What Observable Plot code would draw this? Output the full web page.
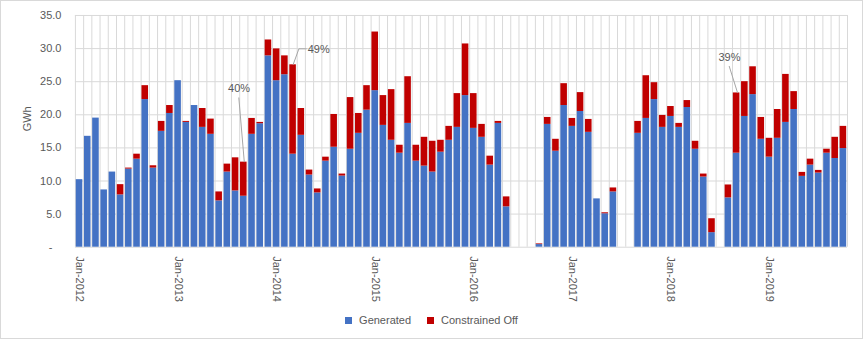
<!DOCTYPE html>
<html><head><meta charset="utf-8">
<script src="https://cdn.jsdelivr.net/npm/d3@7"></script>
<script src="https://cdn.jsdelivr.net/npm/@observablehq/plot@0.6"></script>
<style>
body{margin:0;background:#fff;font-family:"Liberation Sans",Arial,sans-serif;}
#chart{position:relative;width:863px;height:339px;box-sizing:border-box;border:1px solid #d9d9d9;overflow:hidden;background:#fff;}
#plot{position:absolute;left:-1px;top:-1px;}
#legend{position:absolute;left:-1px;top:309px;width:863px;height:20px;display:flex;justify-content:center;align-items:center;font-size:11px;color:#595959;}
.item{display:flex;align-items:center;margin:0 8px;}
.sw{width:7px;height:7px;margin-right:7px;}
</style></head>
<body>
<div id="chart"><div id="plot"></div><div id="legend"></div></div>
<script>
// Categories
const months = d3.utcMonth.range(new Date(Date.UTC(2012,0,1)), new Date(Date.UTC(2019,10,1))).map(d3.utcFormat("%b-%Y"));
const xTickLabels = ["Jan-2012","Jan-2013","Jan-2014","Jan-2015","Jan-2016","Jan-2017","Jan-2018","Jan-2019"];
const yTicks = [0,5,10,15,20,25,30,35];
const series = ["Generated","Constrained Off"];
const colors = ["#4472C4","#C00000"];

// Series values (GWh), Jan-2012 .. Oct-2019
const generated = [
 10.2,16.75,19.5,8.65,11.35,7.9,11.8,13.3,22.3,11.95,17.5,20.2,
 25.15,18.85,21.4,18.1,17.05,7.0,11.35,8.5,7.7,17.05,18.65,28.9,
 25.15,26.05,14.05,16.9,10.9,8.2,13.0,15.1,10.75,14.8,17.2,20.7,
 23.65,18.4,16.15,14.2,18.7,13.0,12.25,11.35,14.35,16.15,18.1,22.9,
 17.95,16.6,12.4,18.7,6.1,0,0,0,0.4,18.55,14.5,21.4,
 18.25,20.5,17.35,7.3,5.05,8.35,0,0,17.2,19.45,22.3,18.1,
 19.75,18.1,21.1,14.8,10.6,2.2,0,7.45,14.2,19.75,23.05,16.3,
 13.6,16.45,18.85,20.8,10.7,12.4,11.2,14.2,13.4,14.9
];
const constrained = [
 0,0,0,0,0,1.55,0.15,0.75,2.1,0.35,1.5,1.2,
 0,0.15,0,2.85,2.3,1.35,1.2,5.0,5.15,2.4,0.2,2.4,
 4.8,2.85,13.5,4.05,0.75,0.6,0.6,4.95,0.3,7.8,3.0,3.7,
 8.85,4.5,7.65,1.2,7.05,2.4,4.35,4.65,1.8,2.1,5.1,7.8,
 5.25,1.95,1.35,0.3,1.5,0,0,0,0.1,1.05,1.8,3.3,
 1.2,2.85,1.95,0,0.15,0.6,0,0,1.8,6.45,2.55,1.8,
 1.5,0.6,1.05,1.2,0.45,2.1,0,1.95,9.1,5.25,4.2,3.3,
 2.85,4.35,7.25,2.7,0.6,0.9,0.4,0.6,3.2,3.35
];

// Annotations (share of constrained off)
const annMonths = ["Sep-2013","Mar-2014","Sep-2018"];
const annLabels = ["40%","49%","39%"];

const rows = months.flatMap((m,i)=>[
  {month:m, series:series[0], value:generated[i]},
  {month:m, series:series[1], value:constrained[i]}
]);
const totalOf = m => { const i = months.indexOf(m); return generated[i]+constrained[i]; };
const ann = annMonths.map((m,i)=>({month:m, value:totalOf(m), label:annLabels[i]}));

// styling/layout
const W = 863, H = 305, mL = 75, mR = 15, mT = 15, mB = 58;
const step = (W - mL - mR) / months.length;
const grid = "#d9d9d9", txt = "#595959";
const annOffsets = [[-4.7,-73.5],[25.7,-15.8],[-7.2,-36]];
// leader segments: [annotation index, x1,y1,x2,y2 offsets in px from bar top]
const leaderSegs = [[0,0.5,0,-5,-64.7],[1,0,0,5.8,-16],[1,5.8,-16,13.5,-16],[2,1,0,-7.5,-27]];
const leaders = leaderSegs.map(s=>({month:ann[s[0]].month, value:ann[s[0]].value}));

const marks = [
  Plot.ruleY(yTicks, {stroke:grid, strokeWidth:1}),
  Plot.ruleX(months, {x:d=>d, dx:-step/2, stroke:grid}),
  Plot.ruleX([months[months.length-1]], {x:d=>d, dx:step/2, stroke:grid}),
  Plot.barY(rows, {x:"month", y:"value", fill:"series"}),
  Plot.axisY({ticks:yTicks, tickSize:0, tickPadding:14, tickFormat:d=> d===0 ? "-\u00a0\u00a0\u00a0" : d.toFixed(1), label:null, fill:txt}),
  Plot.axisX({ticks:xTickLabels, tickSize:0, tickPadding:9, tickRotate:90, label:null, fill:txt}),
  Plot.text(["GWh"], {frameAnchor:"left", rotate:-90, dx:-48, text:d=>d, fill:txt, fontSize:11}),
  Plot.link(leaders, {x1:"month", x2:"month", y1:"value", y2:"value", stroke:"#a6a6a6", strokeWidth:1,
    render(index, scales, values, dims, ctx, next) {
      const x1 = Array.from(values.x1, (v,i)=> v + leaderSegs[i][1]);
      const y1 = Array.from(values.y1, (v,i)=> v + leaderSegs[i][2]);
      const x2 = Array.from(values.x2, (v,i)=> v + leaderSegs[i][3]);
      const y2 = Array.from(values.y2, (v,i)=> v + leaderSegs[i][4]);
      return next(index, scales, {...values, x1, y1, x2, y2}, dims, ctx);
    }}),
  ...ann.map((a,i)=>Plot.text([a], {x:"month", y:"value", text:"label", dx:annOffsets[i][0], dy:annOffsets[i][1], fill:txt, fontSize:11}))
];

const chart = Plot.plot({
  width: W, height: H,
  marginLeft: mL, marginRight: mR, marginTop: mT, marginBottom: mB,
  style: {fontFamily:'"Liberation Sans", Arial, sans-serif', fontSize:"11px", color:txt, background:"transparent"},
  x: {type:"band", domain:months, paddingInner:0.2, paddingOuter:0.1, round:false},
  y: {domain:[0,35]},
  color: {domain:series, range:colors},
  marks
});
document.getElementById("plot").appendChild(chart);

const lg = document.getElementById("legend");
series.forEach((s,i)=>{
  const it = document.createElement("div"); it.className="item";
  const sw = document.createElement("span"); sw.className="sw"; sw.style.background=colors[i];
  const t = document.createElement("span"); t.textContent=s;
  it.appendChild(sw); it.appendChild(t); lg.appendChild(it);
});
</script>
</body></html>
